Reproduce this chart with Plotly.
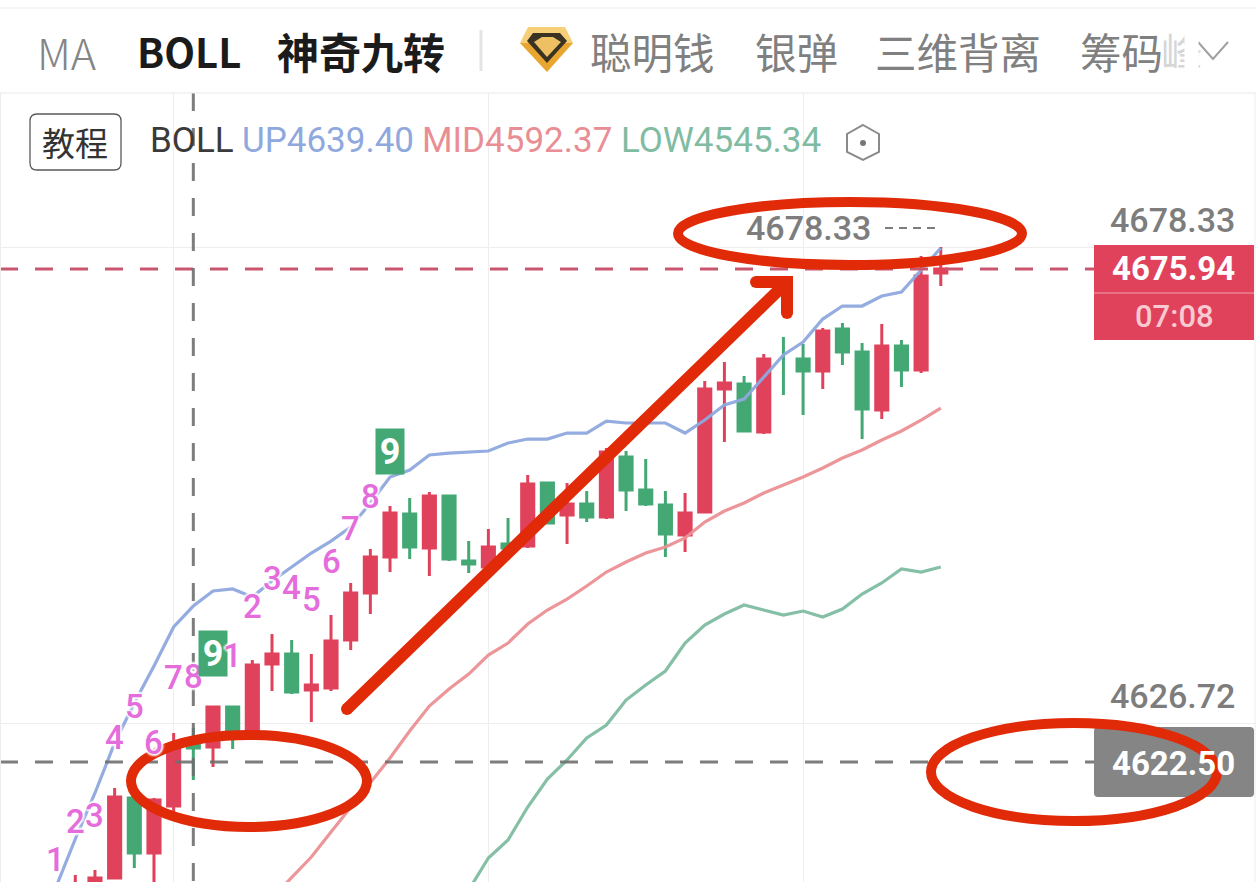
import plotly.graph_objects as go

W, H, TOP = 1256, 882, 93

# ---------- data ----------
candle_index = list(range(45))
opens = [4607.53, 4609.26, 4609.91, 4618.59, 4612.62, 4617.72, 4624.44, 4624.12, 4628.45, 4625.74,
         4633.12, 4634.20, 4630.30, 4630.51, 4635.72, 4640.81, 4644.72, 4649.38, 4645.69, 4651.33,
         4644.28, 4643.63, 4646.13, 4645.91, 4652.74, 4649.27, 4650.46, 4649.05, 4655.56, 4651.98,
         4650.36, 4647.10, 4649.60, 4662.93, 4663.48, 4658.27, None, 4666.19, 4664.88, 4669.44,
         4666.94, 4660.66, 4667.59, 4664.99, 4675.51]
highs = [4610.24, 4610.78, 4619.67, 4618.59, 4618.59, 4625.64, 4626.18, 4628.56, 4628.56, 4633.55,
         4636.37, 4635.72, 4634.20, 4638.43, 4641.90, 4645.58, 4650.25, 4651.11, 4651.77, 4651.44,
         4646.45, 4647.75, 4648.95, 4653.61, 4652.74, 4652.74, 4651.87, 4656.54, 4656.21, 4655.34,
         4651.87, 4651.66, 4663.80, 4665.86, 4664.34, 4666.73, None, 4667.81, 4669.55, 4670.09,
         4667.92, 4669.98, 4668.25, 4677.35, 4678.33]
lows = [4606.99, 4608.07, 4609.91, 4611.00, 4608.61, 4617.07, 4620.54, 4621.95, 4623.90, 4625.64,
        4630.19, 4629.86, 4626.83, 4630.19, 4634.63, 4638.54, 4643.09, 4644.50, 4642.66, 4644.28,
        4642.98, 4643.31, 4644.39, 4645.69, 4648.30, 4646.13, 4648.51, 4648.84, 4649.70, 4650.25,
        4644.72, 4645.26, 4649.49, 4657.19, 4658.27, 4658.05, None, 4660.11, 4662.93, 4665.53,
        4657.51, 4659.68, 4663.15, 4664.67, 4674.10]
closes = [4609.05, 4609.91, 4618.70, 4612.62, 4618.37, 4624.01, 4624.01, 4628.45, 4625.53, 4633.01,
          4634.20, 4630.08, 4630.84, 4635.61, 4640.81, 4644.72, 4649.49, 4645.80, 4651.33, 4644.50,
          4643.96, 4645.80, 4645.69, 4652.63, 4648.40, 4650.46, 4649.05, 4656.10, 4651.98, 4650.46,
          4647.21, 4649.49, 4662.93, 4663.58, 4658.38, 4666.19, None, 4664.88, 4669.22, 4666.94,
          4660.76, 4667.59, 4664.99, 4675.18, 4675.94]
doji_index = [36, 36]
doji_range = [4668.57, 4662.28]

up_index = list(range(-1, 45))
up_band = [4608.83, 4614.14, 4619.13, 4624.55, 4628.89, 4632.90, 4637.13, 4639.40, 4641.03, 4641.25,
           4640.38, 4642.12, 4643.63, 4645.15, 4646.45, 4647.97, 4650.57, 4653.39, 4654.15, 4655.78,
           4655.99, 4656.10, 4656.21, 4657.08, 4657.51, 4657.51, 4658.16, 4658.16, 4659.46, 4659.25,
           4659.25, 4659.25, 4658.16, 4659.57, 4661.20, 4661.85, 4664.23, 4666.62, 4668.03, 4670.52,
           4671.93, 4671.93, 4673.02, 4673.45, 4675.84, 4678.22]
mid_index = list(range(10, 45))
mid_band = [4607.75, 4610.02, 4612.19, 4614.90, 4617.61, 4620.32, 4622.92, 4625.85, 4628.56, 4630.41,
            4632.03, 4634.09, 4635.39, 4637.45, 4638.97, 4640.16, 4641.57, 4643.09, 4644.18, 4645.15,
            4645.80, 4646.78, 4648.51, 4649.70, 4650.57, 4651.66, 4652.52, 4653.39, 4654.37, 4655.45,
            4656.32, 4657.40, 4658.38, 4659.57, 4660.87]
low_index = list(range(20, 45))
low_band = [4608.61, 4612.08, 4614.03, 4617.61, 4620.65, 4622.71, 4625.09, 4626.50, 4629.21, 4630.84,
            4632.36, 4635.39, 4637.34, 4638.54, 4639.51, 4638.97, 4638.43, 4638.86, 4638.21, 4639.08,
            4640.71, 4641.90, 4643.42, 4643.09, 4643.63]

td_index = [-1, 0, 1, 2, 3, 4, 5, 6, 7, 8, 9, 10, 11, 12, 13, 14, 15, 16]
td_labels = ["1", "2", "3", "4", "5", "6", "7", "8", "9", "1", "2", "3", "4", "5", "6", "7", "8", "9"]
td_prices = [4611.87, 4615.99, 4616.64, 4625.20, 4628.56, 4624.66, 4631.60, 4631.81, 4634.31,
             4634.09, 4639.30, 4642.44, 4641.46, 4640.06, 4644.18, 4647.86, 4651.33, 4656.21]

price_ticks = [4678.33, 4626.72]
price_tick_labels = ["4678.33", "4626.72"]
last_price = 4675.94
cursor_price = 4622.50
cursor_index = 6
time_ticks = [5, 21, 37]
countdown = "07:08"
tabs_dark = ["BOLL", "神奇九转"]
tabs_grey = ["MA", "聪明钱", "银弹", "三维背离", "筹码"]
boll_values = {"UP": "4639.40", "MID": "4592.37", "LOW": "4545.34"}

# ---------- colours ----------
RED, GREEN = "#E0425C", "#43A874"
BLUE, SALMON, TEAL = "#8FA8DE", "#EC9195", "#7FBCA2"
CORAL = "#E12A08"
PINK = "#E46CDB"
NUM = "Roboto"
CJK = "Noto Sans CJK SC"

# ---------- pixel helpers for page furniture ----------
def px(x):
    return x / W

def py(y):
    return (H - y) / (H - TOP)

def pts(points, close=False):
    s = "M" + " L".join(f"{px(x):.5f},{py(y):.5f}" for x, y in points)
    return s + (" Z" if close else "")

def rrect(x0, y0, x1, y1, r):
    c = lambda x, y: f"{px(x):.5f},{py(y):.5f}"
    return (f"M{c(x0 + r, y0)} L{c(x1 - r, y0)} Q{c(x1, y0)} {c(x1, y0 + r)} L{c(x1, y1 - r)} "
            f"Q{c(x1, y1)} {c(x1 - r, y1)} L{c(x0 + r, y1)} Q{c(x0, y1)} {c(x0, y1 - r)} "
            f"L{c(x0, y0 + r)} Q{c(x0, y0)} {c(x0 + r, y0)} Z")

shapes = []

def path(d, fill=None, line=None, width=0):
    s = dict(type="path", path=d, xref="paper", yref="paper", layer="above",
             line=dict(color=line or "rgba(0,0,0,0)", width=width))
    if fill:
        s["fillcolor"] = fill
    shapes.append(s)

def oval(x0, y0, x1, y1, line=None, width=0, fill=None):
    s = dict(type="circle", x0=px(x0), x1=px(x1), y0=py(y0), y1=py(y1), xref="paper", yref="paper",
             layer="above", line=dict(color=line or "rgba(0,0,0,0)", width=width))
    if fill:
        s["fillcolor"] = fill
    shapes.append(s)

def seg(x0, y0, x1, y1, color, width):
    path(pts([(x0, y0), (x1, y1)]), line=color, width=width)

annotations = []

def text(x, y, s, size, color, anchor="left", family=NUM, weight=400, **kw):
    annotations.append(dict(x=px(x), y=py(y), xref="paper", yref="paper", text=s, showarrow=False,
                            xanchor=anchor, yanchor="middle", borderpad=0,
                            font=dict(family=family, size=size, color=color, weight=weight), **kw))

# header
seg(0, 8, W, 8, "#EDEDED", 1)
seg(0, 93, W, 93, "#E9E9E9", 1)
seg(0.5, 93, 0.5, H, "#EDEDED", 1)
seg(1255, 93, 1255, H, "#EDEDED", 1)
seg(481, 30, 481, 71, "#E4E4E4", 3)

text(36, 51, tabs_grey[0], 43, "#858585", family=CJK, weight=300)
text(136, 51, tabs_dark[0], 40, "#1B1B1B", family=CJK, weight=700)
text(276, 51, tabs_dark[1], 42, "#1B1B1B", family=CJK, weight=700)
text(589, 51, tabs_grey[1], 41.5, "#808080", family=CJK)
text(754, 51, tabs_grey[2], 41.5, "#808080", family=CJK)
text(874, 51, tabs_grey[3], 41.5, "#808080", family=CJK)
text(1079, 51, tabs_grey[4], 41.5, "#808080", family=CJK)
text(1160, 51, "峰", 41.5, "#D6D6D6", family=CJK)
annotations.append(dict(x=px(1184), y=py(51), xref="paper", yref="paper", text=" ", showarrow=False,
                        xanchor="left", yanchor="middle", bgcolor="#FFFFFF", width=13, height=50,
                        borderpad=0))

# gem icon and chevron
path(pts([(520, 43), (528, 27), (565, 27), (573, 43)], True), fill="#F6CF78")
path(pts([(520, 43), (573, 43), (547, 72)], True), fill="#E8A52F")
path(pts([(527, 41), (533, 33), (560, 33), (567, 41), (547, 63)], True), fill="#3A3222")
path(pts([(534, 42), (542, 37), (553, 37), (561, 42), (547, 57)], True), fill="#EDC063")
path(pts([(1198, 42), (1213, 59), (1228, 42)]), line="#A0A0A0", width=2)

# info row
path(rrect(30, 114, 121, 170, 7), line="#5A5A5A", width=1.3, fill="#FFFFFF")
text(75, 142, "教程", 33, "#333333", anchor="center", family=CJK)
text(149, 141, "BOLL", 35, "#3A3A3A")
text(241, 141, "UP" + boll_values["UP"], 35, BLUE)
text(421, 141, "MID" + boll_values["MID"], 35, "#E98E94")
text(620, 141, "LOW" + boll_values["LOW"], 35, TEAL)
path(pts([(863, 125), (879, 134), (879, 152), (863, 160), (847, 152), (847, 134)], True),
     line="#8A8A8A", width=2)
oval(860, 140, 866, 146, fill="#777777")

# price labels
text(1236, 220, price_tick_labels[0], 34, "#7D7D7D", anchor="right", weight=500)
text(1236, 696, price_tick_labels[1], 34, "#7D7D7D", anchor="right", weight=500)
text(808, 228, price_tick_labels[0], 34, "#7D7D7D", anchor="center", weight=500)
path(pts([(885, 228), (893, 228)]), line="#7D7D7D", width=2)
path(pts([(899, 228), (907, 228)]), line="#7D7D7D", width=2)
path(pts([(913, 228), (921, 228)]), line="#7D7D7D", width=2)
path(pts([(927, 228), (935, 228)]), line="#7D7D7D", width=2)

path(pts([(1094, 245), (1254, 245), (1254, 340), (1094, 340)], True), fill=RED)
seg(1094, 293, 1254, 293, "#F0A0AE", 1)
text(1236, 268, f"{last_price:.2f}", 33, "#FFFFFF", anchor="right", weight=700)
text(1174, 316, countdown, 31, "#F7C9D0", anchor="center", weight=500)
path(rrect(1094, 727, 1254, 797, 4), fill="#858585")
text(1236, 763, f"{cursor_price:.2f}", 33, "#FFFFFF", anchor="right", weight=700)

# hand-drawn marks
oval(678, 202, 1022, 265, line=CORAL, width=10)
oval(131, 735, 367, 827, line=CORAL, width=10)
oval(931, 723, 1217, 821, line=CORAL, width=10)
seg(347, 709, 785, 284, CORAL, 12)
path(pts([(756, 282), (787, 282), (787, 313)]), line=CORAL, width=12)
for cx, cy, r in [(347, 709, 6), (756, 282, 6), (787, 313, 6)]:
    oval(cx - r, cy - r, cx + r, cy + r, fill=CORAL)

# TD sequence labels (on the price scale)
for i, lab, p in zip(td_index, td_labels, td_prices):
    if lab == "9":
        annotations.append(dict(x=i, y=p, xref="x", yref="y", text="<b>9</b>", showarrow=False,
                                bgcolor=GREEN, width=28, height=45, borderpad=0,
                                font=dict(family=NUM, size=36, color="#FFFFFF")))
    else:
        annotations.append(dict(x=i, y=p, xref="x", yref="y", text=lab, showarrow=False,
                                font=dict(family=NUM, size=33, color=PINK, weight=500,
                                          shadow="2px 0 2px #fff, -2px 0 2px #fff, 0 2px 2px #fff, 0 -2px 2px #fff")))

# ---------- figure ----------
fig = go.Figure()
fig.add_trace(go.Candlestick(
    x=candle_index, open=opens, high=highs, low=lows, close=closes,
    increasing=dict(line=dict(color=RED, width=3), fillcolor=RED),
    decreasing=dict(line=dict(color=GREEN, width=3), fillcolor=GREEN),
    whiskerwidth=0, hoverinfo="skip", showlegend=False))
fig.add_trace(go.Scatter(x=doji_index, y=doji_range, mode="lines", line=dict(color=GREEN, width=3),
                         hoverinfo="skip", showlegend=False))
for xs, ys, col in [(up_index, up_band, BLUE), (mid_index, mid_band, SALMON), (low_index, low_band, TEAL)]:
    fig.add_trace(go.Scatter(x=xs, y=ys, mode="lines", line=dict(color=col, width=3.2), opacity=0.95,
                             hoverinfo="skip", showlegend=False))

x_lo, x_hi = -75.3 / 19.67, (W - 75.3) / 19.67
axis_right = (1094 - 75.3) / 19.67
y_hi, y_lo = 4695.03, 4609.48
dash = "18px,17px"
fig.add_trace(go.Scatter(x=[x_lo, axis_right], y=[last_price] * 2, mode="lines",
                         line=dict(color="#C9566F", width=3, dash=dash), hoverinfo="skip", showlegend=False))
fig.add_trace(go.Scatter(x=[x_lo, axis_right], y=[cursor_price] * 2, mode="lines",
                         line=dict(color="#6F6F6F", width=3, dash=dash), opacity=0.9, hoverinfo="skip", showlegend=False))
fig.add_trace(go.Scatter(x=[cursor_index] * 2, y=[y_hi, y_lo], mode="lines",
                         line=dict(color="#6F6F6F", width=3, dash=dash), opacity=0.9, hoverinfo="skip", showlegend=False))

fig.update_layout(
    width=W, height=H, margin=dict(l=0, r=0, t=TOP, b=0, pad=0),
    paper_bgcolor="#FFFFFF", plot_bgcolor="#FFFFFF", showlegend=False, boxgap=0.12,
    shapes=shapes, annotations=annotations,
    xaxis=dict(range=[x_lo, x_hi], tickvals=time_ticks, showticklabels=False, showgrid=True,
               gridcolor="#EEEEEE", gridwidth=1, zeroline=False, showline=False, ticks="",
               rangeslider=dict(visible=False), fixedrange=True),
    yaxis=dict(range=[y_lo, y_hi], tickvals=price_ticks, showticklabels=False, showgrid=True,
               gridcolor="#EEEEEE", gridwidth=1, zeroline=False, showline=False, ticks="", fixedrange=True),
)
fig.write_html("out.html", config=dict(displayModeBar=False),
               post_script="document.body.style.margin='0';document.body.style.overflow='hidden';")
